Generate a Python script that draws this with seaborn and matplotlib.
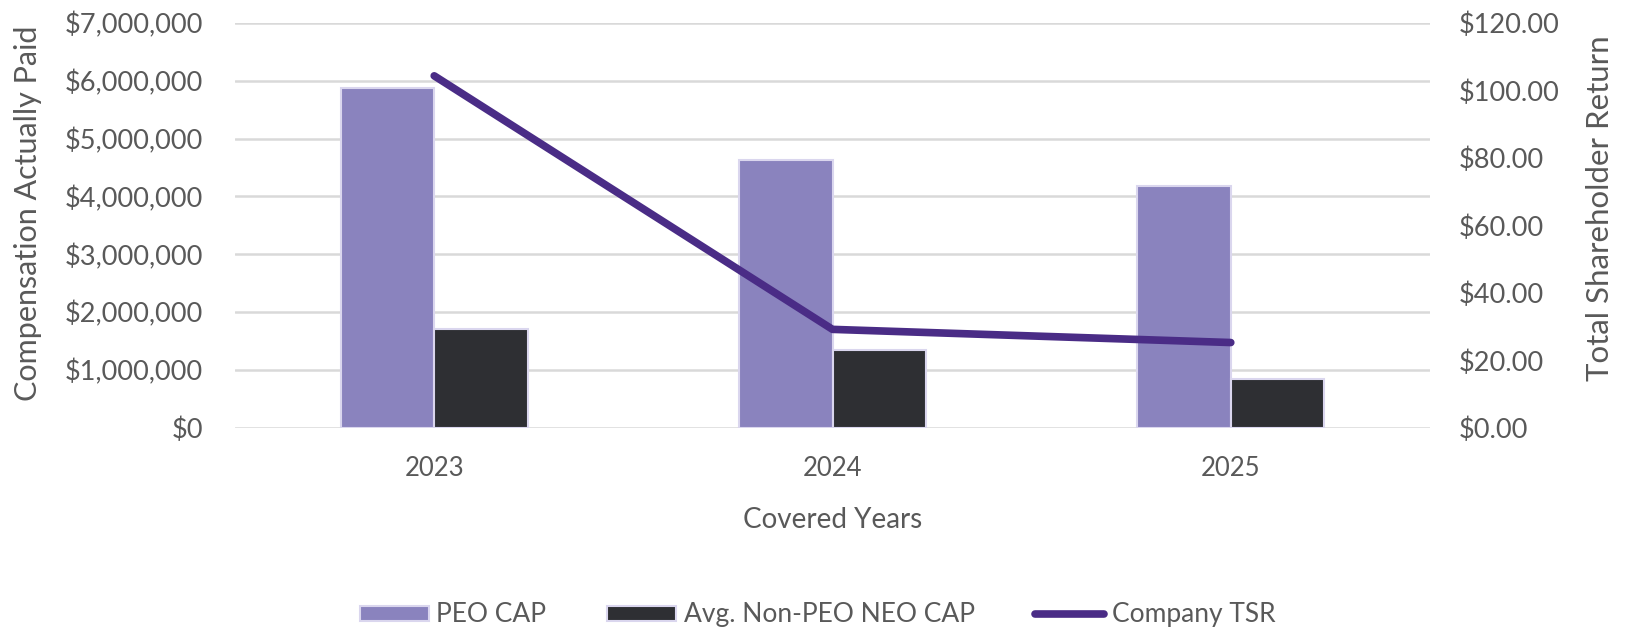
import numpy as np
import pandas as pd
import matplotlib
matplotlib.use("Agg")
import matplotlib.pyplot as plt
import matplotlib.ticker as mticker
from matplotlib.patches import Patch
from matplotlib.lines import Line2D
import seaborn as sns

# Chart data
years = ["2023", "2024", "2025"]
peo_cap = [5880000, 4630000, 4180000]
non_peo_cap = [1710000, 1350000, 845000]
company_tsr = [104.3, 29.2, 25.3]

series_names = ["PEO CAP", "Avg. Non-PEO NEO CAP"]
legend_labels = ["PEO CAP", "Avg. Non-PEO NEO CAP", "Company TSR"]
bar_colors = ["#8A83BE", "#2E2F33"]
edge_color = "#DAD6EE"
line_color = "#4A2C86"
text_color = "#595959"
grid_color = "#D9D9D9"


def build_frame():
    """Long-form table for the grouped bars."""
    rows = []
    for name, values in zip(series_names, [peo_cap, non_peo_cap]):
        for year, val in zip(years, values):
            rows.append({"year": year, "series": name, "value": val})
    return pd.DataFrame(rows)


def main():
    sns.set_theme(style="white")
    plt.rcParams["font.family"] = ["Lato", "DejaVu Sans"]
    plt.rcParams["text.color"] = text_color
    plt.rcParams["axes.labelcolor"] = text_color
    plt.rcParams["xtick.color"] = text_color
    plt.rcParams["ytick.color"] = text_color

    df = build_frame()

    fig = plt.figure(figsize=(16.29, 6.34), dpi=100)
    ax = fig.add_axes([0.1443, 0.325, 0.7335, 0.639])

    sns.barplot(
        data=df, x="year", y="value", hue="series", order=years,
        hue_order=series_names, palette=bar_colors, width=0.47, gap=0,
        saturation=1, edgecolor=edge_color, linewidth=1.5, ax=ax, legend=False,
    )
    ax.set_ylim(0, 7000000)
    ax.set_yticks(np.arange(0, 7000001, 1000000))
    ax.yaxis.set_major_formatter(mticker.FuncFormatter(lambda v, p: f"${v:,.0f}"))
    ax.grid(axis="y", color=grid_color, linewidth=1.8)
    ax.set_axisbelow(True)
    ax.set_xlim(-0.5, len(years) - 0.5)
    for s in ax.spines.values():
        s.set_visible(False)
    ax.tick_params(axis="both", length=0)
    ax.tick_params(axis="y", pad=23, labelsize=19.5)
    ax.tick_params(axis="x", pad=20, labelsize=18.5)
    ax.set_xlabel("Covered Years", fontsize=20)
    ax.xaxis.set_label_coords(0.5, -0.195)
    ax.set_ylabel("Compensation Actually Paid", fontsize=22)
    ax.yaxis.set_label_coords(-0.1615, 0.53)

    ax2 = ax.twinx()
    sns.lineplot(
        x=np.arange(len(years)), y=company_tsr, color=line_color,
        linewidth=5.5, solid_capstyle="round", ax=ax2, legend=False,
    )
    ax2.set_ylim(0, 120)
    ax2.set_yticks(np.arange(0, 121, 20))
    ax2.yaxis.set_major_formatter(mticker.FuncFormatter(lambda v, p: f"${v:,.2f}"))
    for s in ax2.spines.values():
        s.set_visible(False)
    ax2.tick_params(axis="y", length=0, labelsize=19.5, pad=21)
    ax2.set_ylabel("Total Shareholder Return", fontsize=22.5)
    ax2.yaxis.set_label_coords(1.131, 0.542)
    ax2.grid(False)

    handles = [
        Patch(facecolor=bar_colors[0], edgecolor=edge_color, linewidth=1.5),
        Patch(facecolor=bar_colors[1], edgecolor=edge_color, linewidth=1.5),
        Line2D([0], [0], color=line_color, linewidth=5.5, solid_capstyle="round"),
    ]
    fig.legend(
        handles, legend_labels, loc="center", bbox_to_anchor=(0.502, 0.03), ncol=3,
        frameon=False, fontsize=19, handlelength=2.6, handleheight=0.5,
        handletextpad=0.3, columnspacing=2.3,
    )

    fig.savefig("out.png", dpi=100, facecolor="white")
    plt.close("all")


if __name__ == "__main__":
    main()
